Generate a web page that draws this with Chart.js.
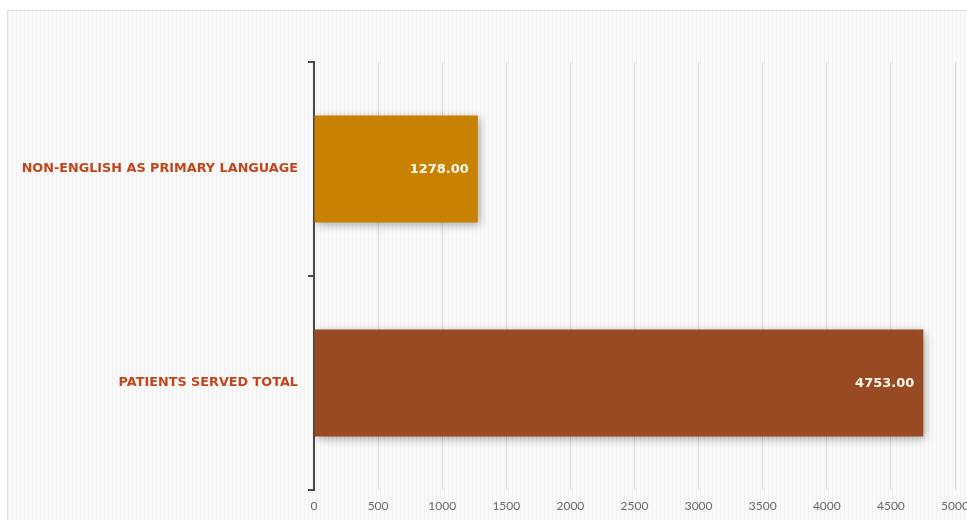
<!DOCTYPE html>
<html>
<head>
<meta charset="utf-8">
<script src="https://cdn.jsdelivr.net/npm/chart.js@4.4.0/dist/chart.umd.min.js"></script>
<style>
  html, body { margin: 0; padding: 0; background: #fff; }
  #wrap { position: relative; width: 967px; height: 520px; overflow: hidden; }
  #panel {
    position: absolute; left: 7px; top: 10px; width: 980px; height: 530px;
    border: 1px solid #e2e2e2;
    background-color: #f8f8f8;
    background-image: repeating-linear-gradient(90deg, #f1f1f1 0px, #f1f1f1 1px, #fafafa 1px, #fafafa 4px);
  }
  #chart { position: absolute; left: 0; top: 0; }
</style>
</head>
<body>
<div id="wrap">
  <div id="panel"></div>
  <canvas id="chart" width="967" height="520"></canvas>
</div>
<script>
const categories = ['NON-ENGLISH AS PRIMARY LANGUAGE', 'PATIENTS SERVED TOTAL'];
const values = [1278, 4753];
const barColors = ['#c88100', '#984a23'];
const xTicks = [0, 500, 1000, 1500, 2000, 2500, 3000, 3500, 4000, 4500, 5000];

// bar shadow + value labels
const barExtras = {
    id: 'barExtras',
    beforeDatasetsDraw(chart) {
        const ctx = chart.ctx;
        ctx.save();
        ctx.shadowColor = 'rgba(0,0,0,0.35)';
        ctx.shadowBlur = 9;
        ctx.shadowOffsetX = 2;
        ctx.shadowOffsetY = 2;
    },
    afterDatasetsDraw(chart) {
        const ctx = chart.ctx;
        ctx.restore();
        ctx.save();
        ctx.font = 'bold 13px "DejaVu Sans"';
        ctx.fillStyle = '#fff8ee';
        ctx.textAlign = 'right';
        ctx.textBaseline = 'middle';
        chart.getDatasetMeta(0).data.forEach((bar, i) => {
            ctx.fillText(values[i].toFixed(2), bar.x - 9, bar.y + 1);
        });
        ctx.restore();
    }
};

(function patients_chart()
{
    const sample = document.getElementById('chart');
    const myChart = new Chart(sample, {
        type: 'bar',
        data: {
            labels: categories,
            datasets: [{
                data: values,
                backgroundColor: barColors,
                borderWidth: 0,
                categoryPercentage: 1,
                barPercentage: 0.5
            }]
        },
        options: {
            indexAxis: 'y',
            responsive: false,
            animation: false,
            layout: { padding: { top: 62, right: 0, left: 0, bottom: 0 } },
            plugins: {
                legend: { display: false },
                tooltip: { enabled: false }
            },
            scales: {
                x: {
                    min: 0,
                    max: 5000,
                    afterBuildTicks(scale) {
                        scale.ticks = xTicks.map(v => ({ value: v }));
                    },
                    afterFit(scale) {
                        scale.height = 30;
                        scale.paddingRight = 12;
                    },
                    border: { display: false },
                    grid: { color: '#d9d9d9', lineWidth: 1, drawTicks: false },
                    ticks: {
                        color: '#6a6a6a',
                        font: { family: 'Lato', size: 12 },
                        padding: 9,
                        maxRotation: 0,
                        autoSkip: false,
                        callback: (v) => String(v)
                    }
                },
                y: {
                    afterFit(scale) { scale.width = 314; },
                    border: { display: true, color: '#4a4a4a', width: 2 },
                    grid: { drawOnChartArea: false, color: '#4a4a4a', lineWidth: 2, tickLength: 6 },
                    ticks: {
                        color: '#c2461c',
                        font: { family: 'DejaVu Sans', size: 12.8, weight: 'bold' },
                        padding: 10
                    }
                }
            }
        },
        plugins: [barExtras]
    });
})();
</script>
</body>
</html>
